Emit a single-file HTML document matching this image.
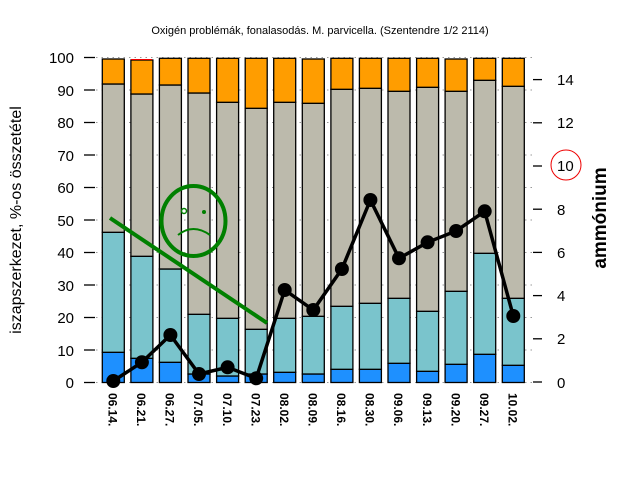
<!DOCTYPE html>
<html><head><meta charset="utf-8"><style>body{margin:0;background:#fff}svg{display:block}</style></head><body>
<svg width="640" height="480" xmlns="http://www.w3.org/2000/svg" font-family="Liberation Sans, sans-serif">
<rect width="640" height="480" fill="#fff"/>
<text x="320" y="34" font-size="11" text-anchor="middle">Oxigén problémák, fonalasodás. M. parvicella. (Szentendre 1/2 2114)</text>
<g stroke="#999" stroke-dasharray="1.5,4" stroke-width="1">
<line x1="96" y1="57.5" x2="533" y2="57.5"/><line x1="96" y1="90" x2="533" y2="90"/><line x1="96" y1="122.5" x2="533" y2="122.5"/><line x1="96" y1="155" x2="533" y2="155"/><line x1="96" y1="187.5" x2="533" y2="187.5"/><line x1="96" y1="220" x2="533" y2="220"/><line x1="96" y1="252.5" x2="533" y2="252.5"/><line x1="96" y1="285" x2="533" y2="285"/><line x1="96" y1="317.5" x2="533" y2="317.5"/><line x1="96" y1="350" x2="533" y2="350"/><line x1="96" y1="382.5" x2="533" y2="382.5"/>
</g>
<g stroke="#000" stroke-width="1.3">
<line x1="84" y1="57.5" x2="95" y2="57.5"/><line x1="84" y1="90" x2="95" y2="90"/><line x1="84" y1="122.5" x2="95" y2="122.5"/><line x1="84" y1="155" x2="95" y2="155"/><line x1="84" y1="187.5" x2="95" y2="187.5"/><line x1="84" y1="220" x2="95" y2="220"/><line x1="84" y1="252.5" x2="95" y2="252.5"/><line x1="84" y1="285" x2="95" y2="285"/><line x1="84" y1="317.5" x2="95" y2="317.5"/><line x1="84" y1="350" x2="95" y2="350"/><line x1="84" y1="382.5" x2="95" y2="382.5"/>
<line x1="533" y1="382" x2="542" y2="382"/><line x1="533" y1="338.8" x2="542" y2="338.8"/><line x1="533" y1="295.6" x2="542" y2="295.6"/><line x1="533" y1="252.4" x2="542" y2="252.4"/><line x1="533" y1="209.2" x2="542" y2="209.2"/><line x1="533" y1="166" x2="542" y2="166"/><line x1="533" y1="122.8" x2="542" y2="122.8"/><line x1="533" y1="79.6" x2="542" y2="79.6"/>
</g>
<g font-size="15" text-anchor="end">
<text x="74" y="63">100</text><text x="74" y="96">90</text><text x="74" y="128">80</text><text x="74" y="161">70</text><text x="74" y="193">60</text><text x="74" y="226">50</text><text x="74" y="258">40</text><text x="74" y="291">30</text><text x="74" y="323">20</text><text x="74" y="356">10</text><text x="74" y="388">0</text>
</g>
<g font-size="15" text-anchor="start">
<text x="557" y="388">0</text><text x="557" y="344">2</text><text x="557" y="301">4</text><text x="557" y="258">6</text><text x="557" y="215">8</text><text x="557" y="171">10</text><text x="557" y="128">12</text><text x="557" y="85">14</text>
</g>
<circle cx="566" cy="165" r="15" fill="none" stroke="#e00" stroke-width="1"/>
<text transform="translate(21,220) rotate(-90)" font-size="16" text-anchor="middle">iszapszerkezet, %-os összetétel</text>
<text transform="translate(606,218) rotate(-90)" font-size="19" font-weight="bold" text-anchor="middle">ammónium</text>
<g stroke="#000" stroke-width="1.3">
<rect x="102.3" y="352.3" width="22" height="30.2" fill="#1e90ff"/><rect x="102.3" y="232.3" width="22" height="120" fill="#7ac4cc"/><rect x="102.3" y="84" width="22" height="148.3" fill="#bcbaac"/><rect x="102.3" y="59" width="22" height="25" fill="#ff9d00"/>
<rect x="130.9" y="358.3" width="22" height="24.2" fill="#1e90ff"/><rect x="130.9" y="256.3" width="22" height="102" fill="#7ac4cc"/><rect x="130.9" y="94" width="22" height="162.3" fill="#bcbaac"/><rect x="130.9" y="60" width="22" height="34" fill="#ff9d00"/>
<rect x="159.4" y="362.3" width="22" height="20.2" fill="#1e90ff"/><rect x="159.4" y="269" width="22" height="93.3" fill="#7ac4cc"/><rect x="159.4" y="85" width="22" height="184" fill="#bcbaac"/><rect x="159.4" y="58.3" width="22" height="26.7" fill="#ff9d00"/>
<rect x="188" y="374" width="22" height="8.5" fill="#1e90ff"/><rect x="188" y="314.3" width="22" height="59.7" fill="#7ac4cc"/><rect x="188" y="93" width="22" height="221.3" fill="#bcbaac"/><rect x="188" y="58.3" width="22" height="34.7" fill="#ff9d00"/>
<rect x="216.6" y="376" width="22" height="6.5" fill="#1e90ff"/><rect x="216.6" y="318.3" width="22" height="57.7" fill="#7ac4cc"/><rect x="216.6" y="102.3" width="22" height="216" fill="#bcbaac"/><rect x="216.6" y="58.3" width="22" height="44" fill="#ff9d00"/>
<rect x="245.2" y="374" width="22" height="8.5" fill="#1e90ff"/><rect x="245.2" y="329.3" width="22" height="44.7" fill="#7ac4cc"/><rect x="245.2" y="108.3" width="22" height="221" fill="#bcbaac"/><rect x="245.2" y="58.3" width="22" height="50" fill="#ff9d00"/>
<rect x="273.7" y="372.3" width="22" height="10.2" fill="#1e90ff"/><rect x="273.7" y="318.3" width="22" height="54" fill="#7ac4cc"/><rect x="273.7" y="102.3" width="22" height="216" fill="#bcbaac"/><rect x="273.7" y="58.3" width="22" height="44" fill="#ff9d00"/>
<rect x="302.3" y="374" width="22" height="8.5" fill="#1e90ff"/><rect x="302.3" y="316.3" width="22" height="57.7" fill="#7ac4cc"/><rect x="302.3" y="103.3" width="22" height="213" fill="#bcbaac"/><rect x="302.3" y="59" width="22" height="44.3" fill="#ff9d00"/>
<rect x="330.9" y="369.3" width="22" height="13.2" fill="#1e90ff"/><rect x="330.9" y="306.3" width="22" height="63" fill="#7ac4cc"/><rect x="330.9" y="89.3" width="22" height="217" fill="#bcbaac"/><rect x="330.9" y="58.3" width="22" height="31" fill="#ff9d00"/>
<rect x="359.4" y="369.3" width="22" height="13.2" fill="#1e90ff"/><rect x="359.4" y="303.3" width="22" height="66" fill="#7ac4cc"/><rect x="359.4" y="88.3" width="22" height="215" fill="#bcbaac"/><rect x="359.4" y="58.3" width="22" height="30" fill="#ff9d00"/>
<rect x="388" y="363.3" width="22" height="19.2" fill="#1e90ff"/><rect x="388" y="298.3" width="22" height="65" fill="#7ac4cc"/><rect x="388" y="91.3" width="22" height="207" fill="#bcbaac"/><rect x="388" y="58.3" width="22" height="33" fill="#ff9d00"/>
<rect x="416.6" y="371.3" width="22" height="11.2" fill="#1e90ff"/><rect x="416.6" y="311.3" width="22" height="60" fill="#7ac4cc"/><rect x="416.6" y="87.3" width="22" height="224" fill="#bcbaac"/><rect x="416.6" y="58.3" width="22" height="29" fill="#ff9d00"/>
<rect x="445.1" y="364.3" width="22" height="18.2" fill="#1e90ff"/><rect x="445.1" y="291.3" width="22" height="73" fill="#7ac4cc"/><rect x="445.1" y="91.3" width="22" height="200" fill="#bcbaac"/><rect x="445.1" y="59" width="22" height="32.3" fill="#ff9d00"/>
<rect x="473.7" y="354.3" width="22" height="28.2" fill="#1e90ff"/><rect x="473.7" y="253.3" width="22" height="101" fill="#7ac4cc"/><rect x="473.7" y="80.3" width="22" height="173" fill="#bcbaac"/><rect x="473.7" y="58.3" width="22" height="22" fill="#ff9d00"/>
<rect x="502.3" y="365.3" width="22" height="17.2" fill="#1e90ff"/><rect x="502.3" y="298.3" width="22" height="67" fill="#7ac4cc"/><rect x="502.3" y="86.3" width="22" height="212" fill="#bcbaac"/><rect x="502.3" y="58.3" width="22" height="28" fill="#ff9d00"/>
</g>
<line x1="131" y1="59.5" x2="152" y2="59.5" stroke="#e00" stroke-width="1"/>
<polyline points="113.3,381 141.9,362.3 170.4,335 199,374 227.6,367.3 256.2,378.3 284.7,290 313.3,310 341.9,269 370.4,200 399,258.3 427.6,242.3 456.1,231 484.7,211.3 513.3,316" fill="none" stroke="#000" stroke-width="3.5"/>
<g fill="#000">
<circle cx="113.3" cy="381" r="7"/><circle cx="141.9" cy="362.3" r="7"/><circle cx="170.4" cy="335" r="7"/><circle cx="199" cy="374" r="7"/><circle cx="227.6" cy="367.3" r="7"/><circle cx="256.2" cy="378.3" r="7"/><circle cx="284.7" cy="290" r="7"/><circle cx="313.3" cy="310" r="7"/><circle cx="341.9" cy="269" r="7"/><circle cx="370.4" cy="200" r="7"/><circle cx="399" cy="258.3" r="7"/><circle cx="427.6" cy="242.3" r="7"/><circle cx="456.1" cy="231" r="7"/><circle cx="484.7" cy="211.3" r="7"/><circle cx="513.3" cy="316" r="7"/>
</g>
<line x1="110" y1="218" x2="267" y2="323" stroke="#008000" stroke-width="4"/>
<ellipse cx="193.5" cy="221" rx="32" ry="35" fill="none" stroke="#008000" stroke-width="4"/>
<path d="M178,235 Q193,223 210,235" fill="none" stroke="#008000" stroke-width="2"/>
<circle cx="184" cy="211" r="2.5" fill="none" stroke="#008000" stroke-width="1.5"/><circle cx="204" cy="212" r="2" fill="#008000"/>
<g font-size="12" font-weight="bold">
<text transform="translate(108.5,393) rotate(90)">06.14.</text>
<text transform="translate(137.1,393) rotate(90)">06.21.</text>
<text transform="translate(165.6,393) rotate(90)">06.27.</text>
<text transform="translate(194.2,393) rotate(90)">07.05.</text>
<text transform="translate(222.8,393) rotate(90)">07.10.</text>
<text transform="translate(251.4,393) rotate(90)">07.23.</text>
<text transform="translate(279.9,393) rotate(90)">08.02.</text>
<text transform="translate(308.5,393) rotate(90)">08.09.</text>
<text transform="translate(337.1,393) rotate(90)">08.16.</text>
<text transform="translate(365.6,393) rotate(90)">08.30.</text>
<text transform="translate(394.2,393) rotate(90)">09.06.</text>
<text transform="translate(422.8,393) rotate(90)">09.13.</text>
<text transform="translate(451.3,393) rotate(90)">09.20.</text>
<text transform="translate(479.9,393) rotate(90)">09.27.</text>
<text transform="translate(508.5,393) rotate(90)">10.02.</text>
</g>
</svg>
</body></html>
